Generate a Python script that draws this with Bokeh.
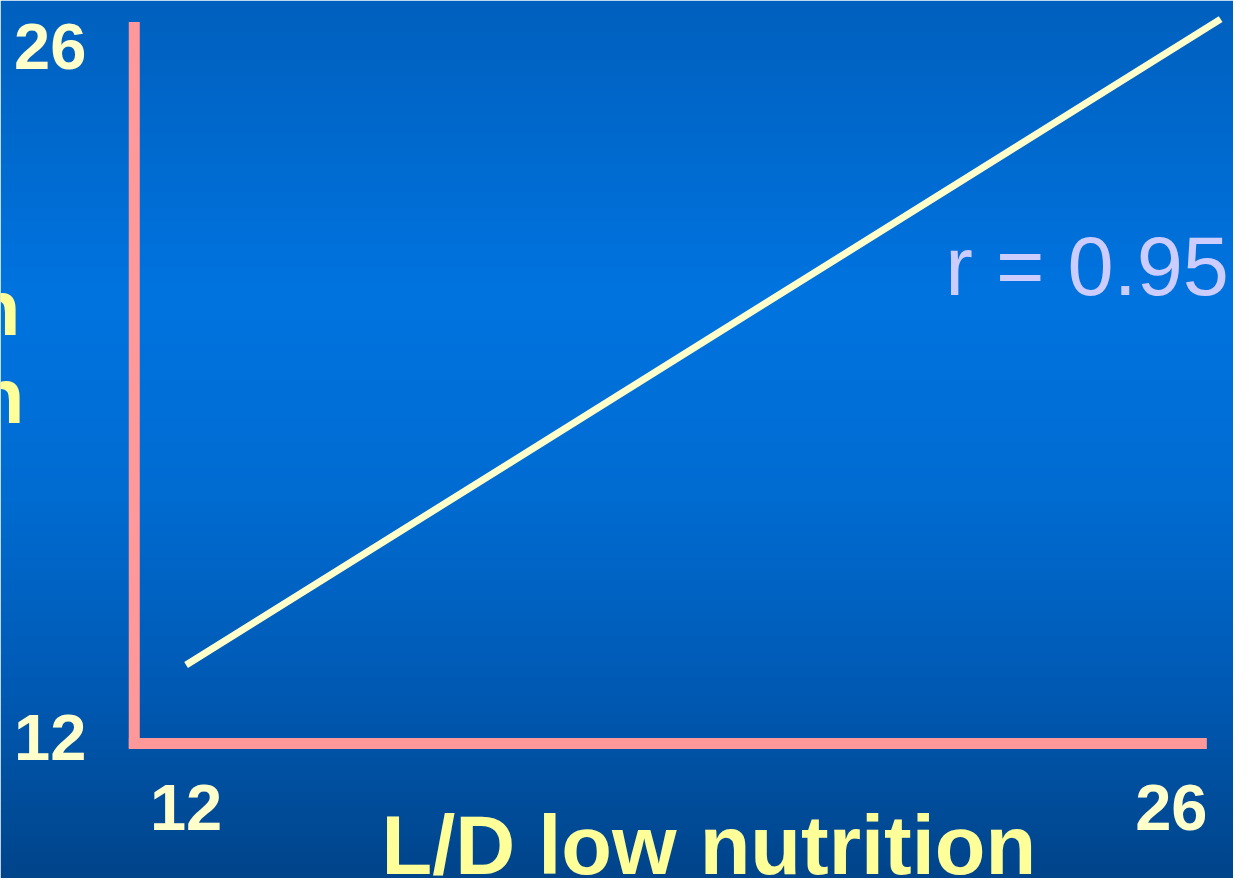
import numpy as np
from bokeh.plotting import figure
from bokeh.models import Range1d
from bokeh.core.properties import value
from bokeh.embed import file_html
from bokeh.resources import INLINE

# ---- data ----
x_tick_values = [12, 26]
x_tick_labels = ["12", "26"]
y_tick_values = [12, 26]
y_tick_labels = ["12", "26"]
fit_x = [12.0, 26.7]
fit_y = [13.5, 26.6]
r_label = "r = 0.95"
x_title = "L/D low nutrition"
y_title_lines = ["L/D high protein", "nutrition"]

# ---- layout ----
W, H = 1233, 878
REF_W, REF_H = 1249, 894
PXU_X, PXU_Y = 71.29, 50.21          # reference pixels per data unit


def dx(px):
    return 12 + (px - 188) / PXU_X


def dy(py):
    return 12 + (752 - py) / PXU_Y


XMIN, XMAX = dx(0), dx(REF_W)
YMIN, YMAX = dy(REF_H), dy(0)
FS = W / REF_W   # font scale

p = figure(width=W, height=H, x_range=Range1d(XMIN, XMAX), y_range=Range1d(YMIN, YMAX),
           x_axis_type=None, y_axis_type=None, output_backend="svg",
           toolbar_location=None, min_border=0)
p.grid.visible = False
p.outline_line_color = None
p.border_fill_color = "#00468C"

# background vertical gradient
stops_y = [0, 300, 500, 700, 894]
stops_g = [96, 116, 108, 90, 68]
stops_b = [190, 224, 210, 180, 138]
rows = np.arange(H)
ref_y = (H - 1 - rows) * REF_H / H
img = np.empty((H, 2), dtype=np.uint32)
view = img.view(dtype=np.uint8).reshape((H, 2, 4))
view[:, :, 0] = 0
view[:, :, 1] = np.interp(ref_y, stops_y, stops_g).astype(np.uint8)[:, None]
view[:, :, 2] = np.interp(ref_y, stops_y, stops_b).astype(np.uint8)[:, None]
view[:, :, 3] = 255
p.image_rgba(image=[img], x=XMIN, y=YMIN, dw=XMAX - XMIN, dh=YMAX - YMIN, level="image")

# axes lines (pink)
AX_X, AX_TOP, AX_BOT = dx(135.5), dy(22), dy(762)
AX_Y, AX_L, AX_R = dy(756.5), dx(130), dx(1222)
p.segment(x0=[AX_X, AX_L], y0=[AX_TOP, AX_Y], x1=[AX_X, AX_R], y1=[AX_BOT, AX_Y],
          line_width=11, line_color="#FF9999", line_cap="butt")

# fit line
p.line(fit_x, fit_y, line_width=7, line_color="#FFFFCC", line_cap="butt")

font = value("Liberation Sans")


def mid(baseline_ref, size_px):
    # vertical middle of the em box for a given reference baseline
    return dy(baseline_ref - 0.35 * size_px)


# tick labels
p.text(x=x_tick_values, y=[dy(822)] * len(x_tick_values), text=x_tick_labels,
       text_align="center", text_baseline="middle", text_font=font,
       text_font_style="bold", text_font_size=f"{66 * FS:.0f}px", text_color="#FFFFCC")
p.text(x=[dx(87)] * len(y_tick_values), y=[v + 2 / PXU_Y for v in y_tick_values], text=y_tick_labels,
       text_align="right", text_baseline="middle", text_font=font,
       text_font_style="bold", text_font_size=f"{66 * FS:.0f}px", text_color="#FFFFCC")

# r label
p.text(x=[dx(957)], y=[mid(300, 84)], text=[r_label], text_align="left", text_baseline="middle",
       text_font=font, text_font_size=f"{84 * FS:.0f}px", text_color="#CCCCFF")

# y title (cut off at the left edge)
p.text(x=[dx(20), dx(24)], y=[mid(340, 78), mid(430, 78)], text=y_title_lines,
       text_align="right", text_baseline="middle", text_font=font,
       text_font_style="bold", text_font_size=f"{78 * FS:.0f}px", text_color="#FFFF99")

# x title
p.text(x=[dx(717.5)], y=[mid(890, 84)], text=[x_title], text_align="center",
       text_baseline="middle", text_font=font, text_font_style="bold",
       text_font_size=f"{84 * FS:.0f}px", text_color="#FFFF99")

open("out.html", "w").write(file_html(p, INLINE))
